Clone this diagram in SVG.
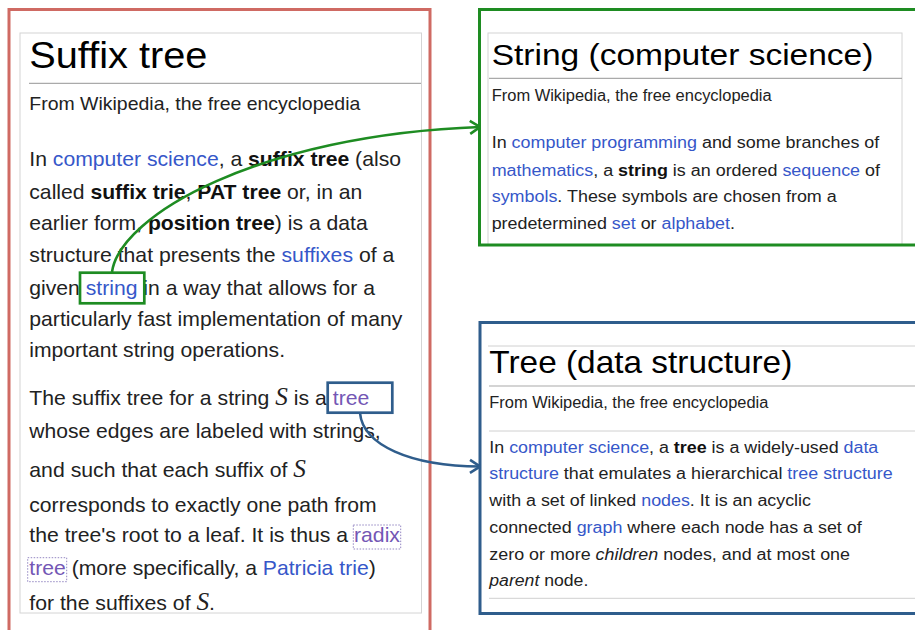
<svg xmlns="http://www.w3.org/2000/svg" width="915" height="630" viewBox="0 0 915 630">
  <style>
    text { font-family: "Liberation Sans", Arial, sans-serif; fill: #222; }
    .title { fill: #000; }
    .lnk { fill: #3657c9; }
    .vis { fill: #7457b5; }
    .b { font-weight: bold; fill: #111; }
    .it { font-style: italic; }
    .math { font-family: "Liberation Serif", "Times New Roman", serif; font-style: italic; font-size: 25px; }
    .frame { fill: none; stroke-width: 3; }
    .panel { fill: #fff; stroke: #d4d4d4; stroke-width: 1; }
    .rule { stroke: #aaa; stroke-width: 1.2; }
    .rule2 { stroke: #d0d0d0; stroke-width: 1; }
    .dots { fill: none; stroke: #9487c2; stroke-width: 1; stroke-dasharray: 1.5 1.5; }
    .conn { fill: none; stroke-width: 2.6; }
  </style>
  <defs>
    <marker id="arrowGreen" viewBox="0 0 12 16" refX="11" refY="8" markerWidth="12" markerHeight="16" markerUnits="userSpaceOnUse" orient="auto">
      <path d="M1,1.5 L11,8 L1,14.5" fill="none" stroke="#1e8c22" stroke-width="2.6"/>
    </marker>
    <marker id="arrowBlue" viewBox="0 0 12 16" refX="11" refY="8" markerWidth="12" markerHeight="16" markerUnits="userSpaceOnUse" orient="auto">
      <path d="M1,1.5 L11,8 L1,14.5" fill="none" stroke="#2f5d8c" stroke-width="2.6"/>
    </marker>
  </defs>
  <rect width="915" height="630" fill="#fff"/>

  <!-- Suffix tree article -->
  <g id="suffix-tree">
    <rect class="frame" x="9" y="9.5" width="421" height="660" stroke="#cf6a63"/>
    <rect class="panel" x="20" y="33" width="401.5" height="580"/>
    <text class="title" x="29.3" y="68.3" font-size="37" textLength="178" lengthAdjust="spacingAndGlyphs">Suffix tree</text>
    <line class="rule" x1="29" y1="83.3" x2="421" y2="83.3"/>
    <text x="29.3" y="110" font-size="18.5" textLength="331" lengthAdjust="spacingAndGlyphs">From Wikipedia, the free encyclopedia</text>
    <g font-size="21">
      <text x="29.3" y="165.7" textLength="371.7" lengthAdjust="spacingAndGlyphs">In <tspan class="lnk">computer science</tspan>, a <tspan class="b">suffix tree</tspan> (also</text>
      <text x="29.3" y="198.5" textLength="333" lengthAdjust="spacingAndGlyphs">called <tspan class="b">suffix trie</tspan>, <tspan class="b">PAT tree</tspan> or, in an</text>
      <text x="29.3" y="230" textLength="338.4" lengthAdjust="spacingAndGlyphs">earlier form, <tspan class="b">position tree</tspan>) is a data</text>
      <text x="29.3" y="262" textLength="365" lengthAdjust="spacingAndGlyphs">structure that presents the <tspan class="lnk">suffixes</tspan> of a</text>
      <text x="29.3" y="294.5" textLength="345.7" lengthAdjust="spacingAndGlyphs">given <tspan class="lnk">string</tspan> in a way that allows for a</text>
      <text x="29.3" y="326" textLength="373" lengthAdjust="spacingAndGlyphs">particularly fast implementation of many</text>
      <text x="29.3" y="357" textLength="255.7" lengthAdjust="spacingAndGlyphs">important string operations.</text>
      <text x="29.3" y="405" textLength="340" lengthAdjust="spacingAndGlyphs">The suffix tree for a string <tspan class="math">S</tspan> is a <tspan class="vis">tree</tspan></text>
      <text x="29.3" y="438.3" textLength="351.4" lengthAdjust="spacingAndGlyphs">whose edges are labeled with strings,</text>
      <text x="29.3" y="476.7" textLength="276.7" lengthAdjust="spacingAndGlyphs">and such that each suffix of <tspan class="math">S</tspan></text>
      <text x="29.3" y="511.7" textLength="347.4" lengthAdjust="spacingAndGlyphs">corresponds to exactly one path from</text>
      <text x="29.3" y="541.7" textLength="370.7" lengthAdjust="spacingAndGlyphs">the tree's root to a leaf. It is thus a <tspan class="vis">radix</tspan></text>
      <text x="29.3" y="575" textLength="346.4" lengthAdjust="spacingAndGlyphs"><tspan class="vis">tree</tspan> (more specifically, a <tspan class="lnk">Patricia trie</tspan>)</text>
      <text x="29.3" y="610" textLength="185.7" lengthAdjust="spacingAndGlyphs">for the suffixes of <tspan class="math">S</tspan>.</text>
    </g>
    <rect class="dots" x="353.3" y="525" width="47.4" height="24"/>
    <rect class="dots" x="27.7" y="557.7" width="39" height="24"/>
  </g>

  <!-- String (computer science) article -->
  <g id="string-article">
    <rect class="panel" x="488" y="33" width="414" height="212" stroke="#ececec"/>
    <rect class="frame" x="479.5" y="9.5" width="460" height="235.5" stroke="#1e8c22"/>
    <text class="title" x="491.7" y="65" font-size="30" textLength="381.7" lengthAdjust="spacingAndGlyphs">String (computer science)</text>
    <line class="rule" x1="489" y1="78.3" x2="902" y2="78.3"/>
    <g font-size="16">
      <text x="491.7" y="100.7" textLength="280" lengthAdjust="spacingAndGlyphs">From Wikipedia, the free encyclopedia</text>
      <text x="491.7" y="148.3" textLength="387.6" lengthAdjust="spacingAndGlyphs">In <tspan class="lnk">computer programming</tspan> and some branches of</text>
      <text x="491.7" y="175.7" textLength="388.3" lengthAdjust="spacingAndGlyphs"><tspan class="lnk">mathematics</tspan>, a <tspan class="b">string</tspan> is an ordered <tspan class="lnk">sequence</tspan> of</text>
      <text x="491.7" y="202.3" textLength="345" lengthAdjust="spacingAndGlyphs"><tspan class="lnk">symbols</tspan>. These symbols are chosen from a</text>
      <text x="491.7" y="229.3" textLength="243.3" lengthAdjust="spacingAndGlyphs">predetermined <tspan class="lnk">set</tspan> or <tspan class="lnk">alphabet</tspan>.</text>
    </g>
  </g>

  <!-- Tree (data structure) article -->
  <g id="tree-article">
    <line class="rule2" x1="488" y1="346" x2="915" y2="346" stroke="#e8e8e8"/>
    <rect class="frame" x="480" y="322.5" width="460" height="291" stroke="#2f5d8c"/>
    <text class="title" x="489.3" y="373.3" font-size="32" textLength="303" lengthAdjust="spacingAndGlyphs">Tree (data structure)</text>
    <line class="rule" x1="489" y1="386" x2="915" y2="386"/>
    <line class="rule2" x1="489" y1="431" x2="915" y2="431"/>
    <line class="rule2" x1="489" y1="598.3" x2="915" y2="598.3" stroke="#e8e8e8"/>
    <g font-size="16">
      <text x="489.3" y="408.3" textLength="279" lengthAdjust="spacingAndGlyphs">From Wikipedia, the free encyclopedia</text>
      <text x="489.3" y="452.7" textLength="389" lengthAdjust="spacingAndGlyphs">In <tspan class="lnk">computer science</tspan>, a <tspan class="b">tree</tspan> is a widely-used <tspan class="lnk">data</tspan></text>
      <text x="489.3" y="479.3" textLength="403.4" lengthAdjust="spacingAndGlyphs"><tspan class="lnk">structure</tspan> that emulates a hierarchical <tspan class="lnk">tree structure</tspan></text>
      <text x="489.3" y="506" textLength="321.7" lengthAdjust="spacingAndGlyphs">with a set of linked <tspan class="lnk">nodes</tspan>. It is an acyclic</text>
      <text x="489.3" y="533.3" textLength="372.4" lengthAdjust="spacingAndGlyphs">connected <tspan class="lnk">graph</tspan> where each node has a set of</text>
      <text x="489.3" y="560" textLength="360.7" lengthAdjust="spacingAndGlyphs">zero or more <tspan class="it">children</tspan> nodes, and at most one</text>
      <text x="489.3" y="586" textLength="99" lengthAdjust="spacingAndGlyphs"><tspan class="it">parent</tspan> node.</text>
    </g>
  </g>

  <!-- link highlights -->
  <g id="highlights">
    <rect x="80" y="272.7" width="64.3" height="30.6" fill="none" stroke="#1e8c22" stroke-width="2.7"/>
    <rect x="327.7" y="382.7" width="64.6" height="30" fill="none" stroke="#2f5d8c" stroke-width="2.7"/>
  </g>

  <!-- connectors -->
  <g id="connectors">
    <path class="conn" d="M112,272 C120,215 260,135 480,127" stroke="#1e8c22" marker-end="url(#arrowGreen)"/>
    <path class="conn" d="M360,413 C363,445 410,466 480,466.5" stroke="#2f5d8c" marker-end="url(#arrowBlue)"/>
  </g>
</svg>
